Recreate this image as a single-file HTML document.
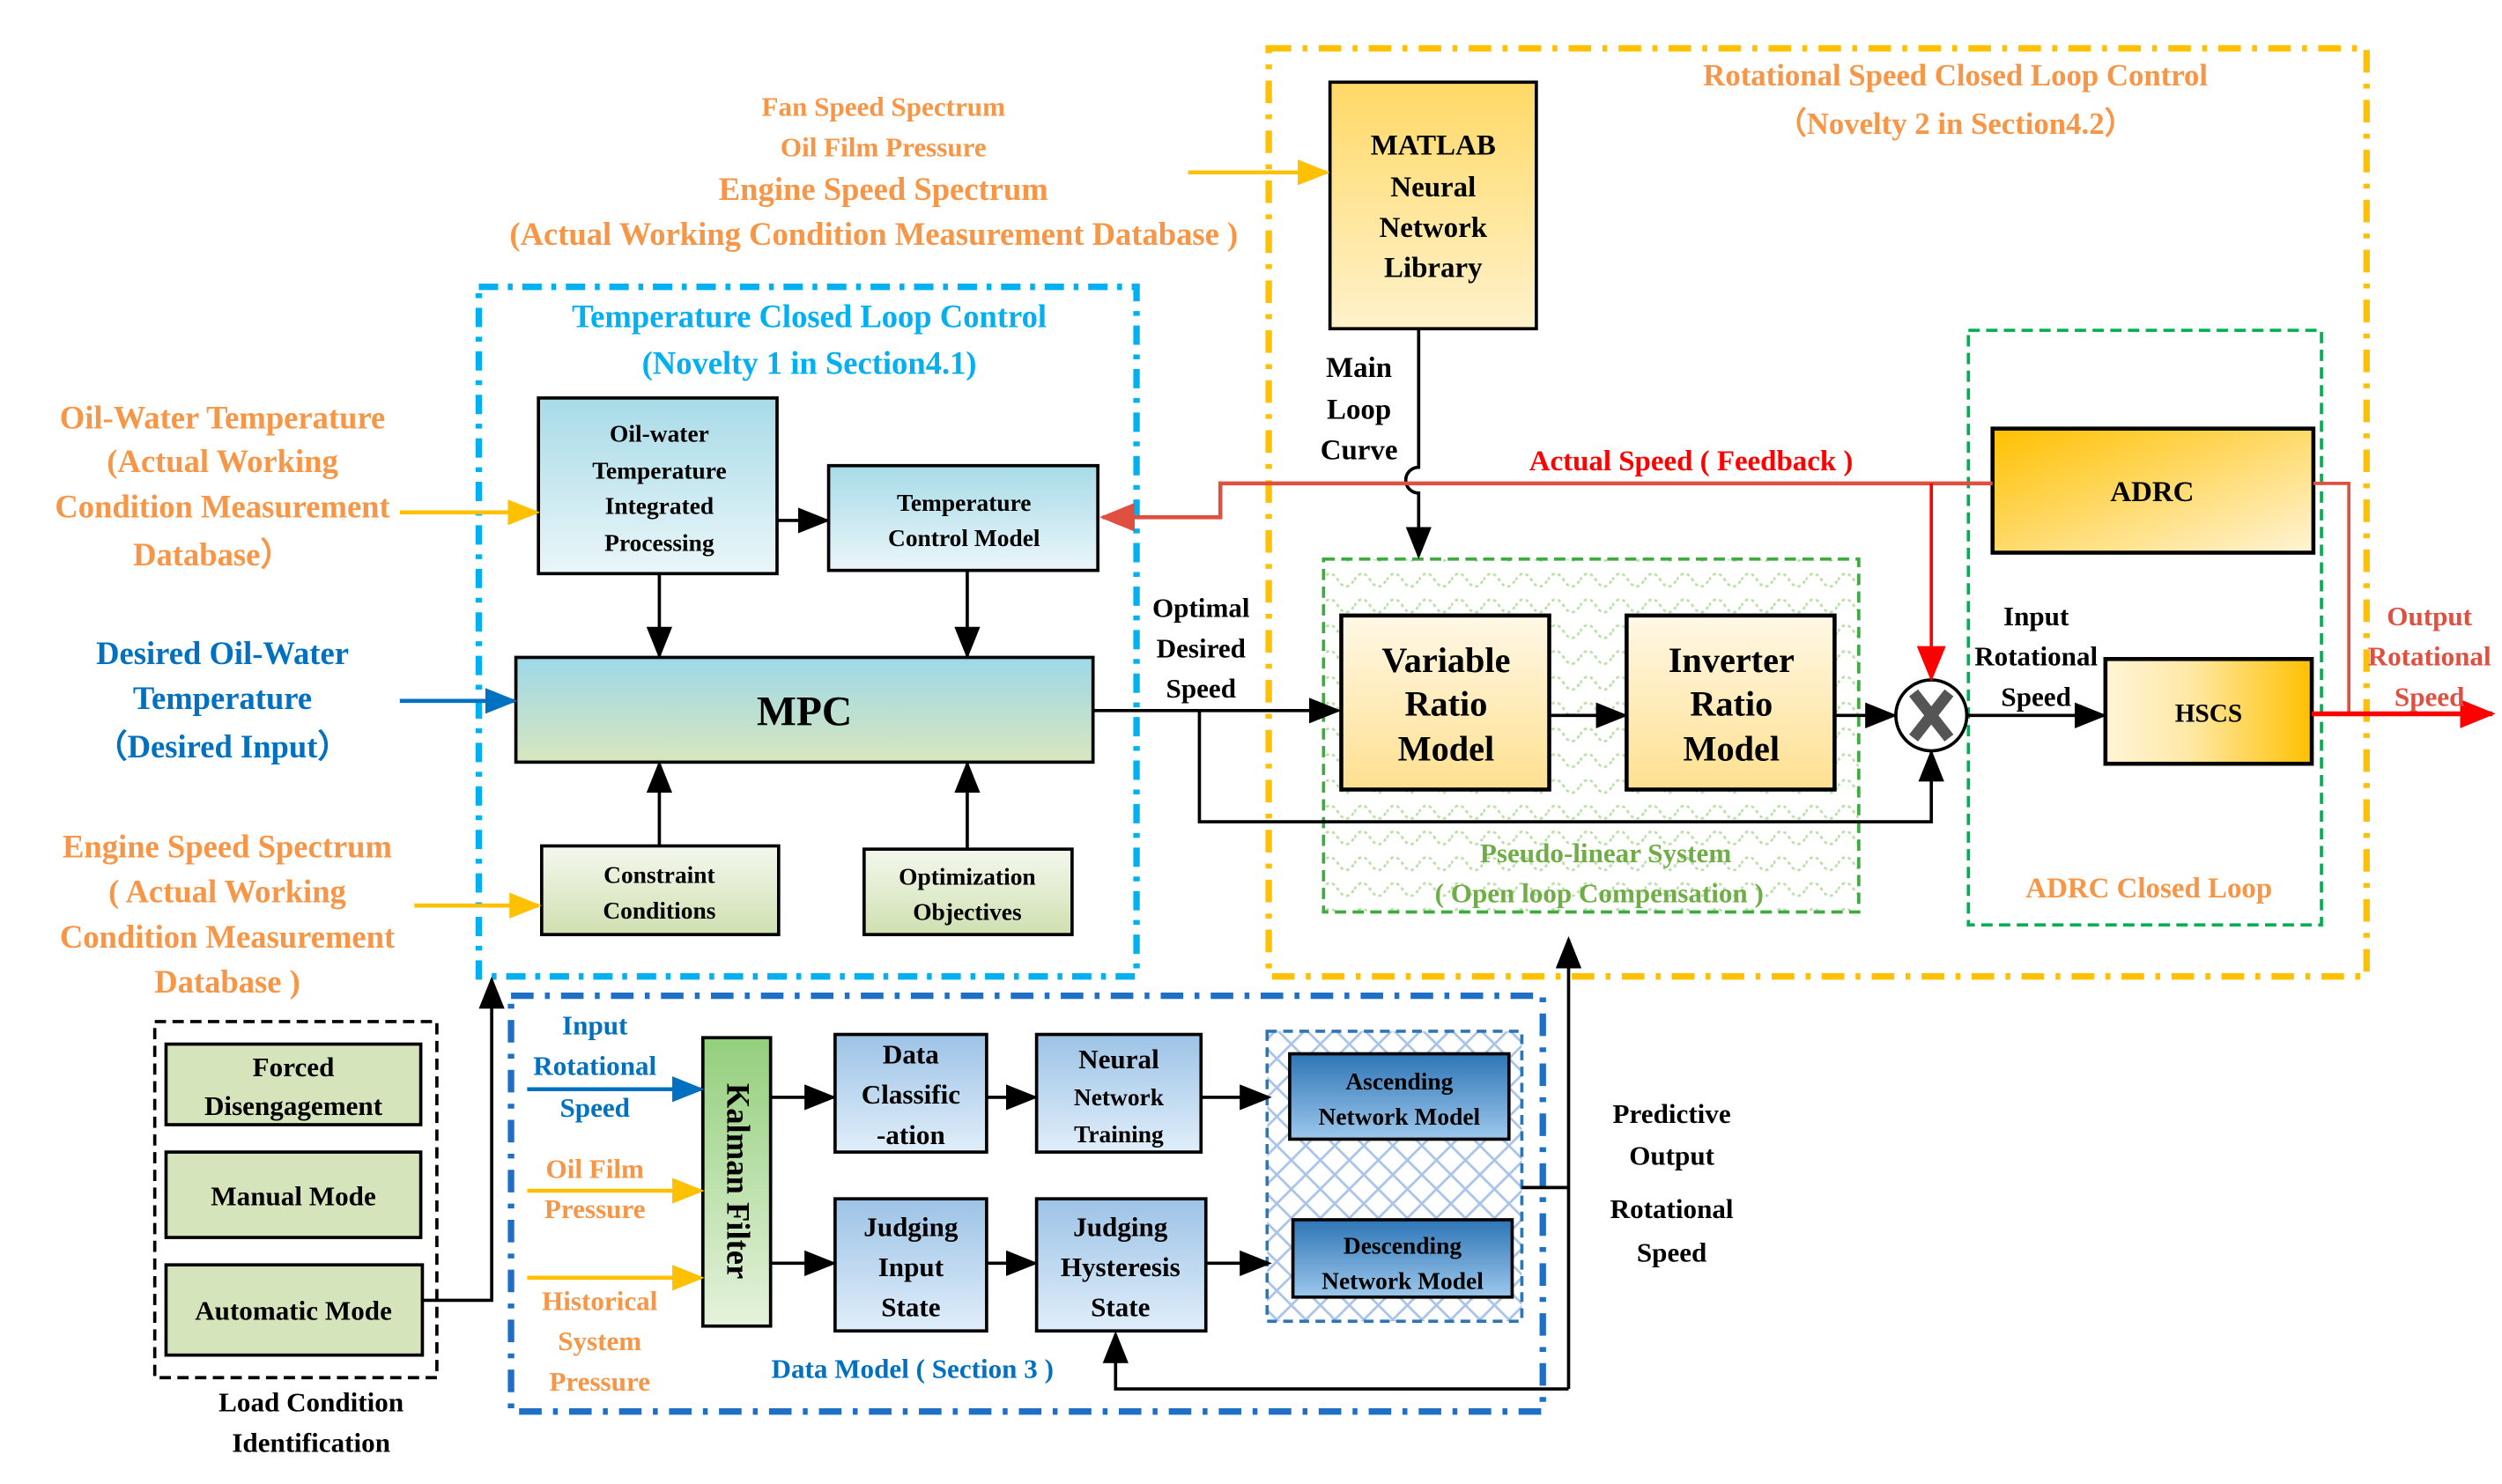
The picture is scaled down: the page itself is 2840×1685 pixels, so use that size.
<!DOCTYPE html>
<html><head><meta charset="utf-8">
<style>html,body{margin:0;padding:0;background:#fff}svg{display:block}
text{font-family:"Liberation Serif",serif;font-weight:bold;text-anchor:middle}</style></head>
<body>
<svg width="2840" height="1685" viewBox="0 0 1552 921" preserveAspectRatio="none" xmlns="http://www.w3.org/2000/svg">
<defs>
<marker id="ak" markerWidth="10" markerHeight="10" refX="9" refY="5" orient="auto" markerUnits="userSpaceOnUse"><path d="M0,0 L10,5 L0,10 z" fill="#000"/></marker>
<marker id="ab" markerWidth="20" markerHeight="16" refX="18" refY="8" orient="auto" markerUnits="userSpaceOnUse"><path d="M0,0 L20,8 L0,16 z" fill="#000"/></marker>
<marker id="ay" markerWidth="20" markerHeight="16" refX="18" refY="8" orient="auto" markerUnits="userSpaceOnUse"><path d="M0,0 L20,8 L0,16 z" fill="#ffc000"/></marker>
<marker id="abl" markerWidth="20" markerHeight="16" refX="18" refY="8" orient="auto" markerUnits="userSpaceOnUse"><path d="M0,0 L20,8 L0,16 z" fill="#0070c0"/></marker>
<marker id="ar" markerWidth="22" markerHeight="18" refX="20" refY="9" orient="auto" markerUnits="userSpaceOnUse"><path d="M0,0 L22,9 L0,18 z" fill="#ff0000"/></marker>
<marker id="ar2" markerWidth="22" markerHeight="18" refX="20" refY="9" orient="auto" markerUnits="userSpaceOnUse"><path d="M0,0 L22,9 L0,18 z" fill="#e05040"/></marker>
<linearGradient id="gy" x1="0" y1="0" x2="0" y2="1"><stop offset="0" stop-color="#fff8e6"/><stop offset="1" stop-color="#ffe090"/></linearGradient>
<linearGradient id="gm" x1="0" y1="0" x2="0" y2="1"><stop offset="0" stop-color="#ffd966"/><stop offset="1" stop-color="#fff2cc"/></linearGradient>
<linearGradient id="gc" x1="0" y1="0" x2="0" y2="1"><stop offset="0" stop-color="#a8dbe8"/><stop offset="1" stop-color="#eaf6f9"/></linearGradient>
<linearGradient id="gmpc" x1="0" y1="0" x2="0" y2="1"><stop offset="0" stop-color="#9dd8e8"/><stop offset="1" stop-color="#d8e6be"/></linearGradient>
<linearGradient id="gg" x1="0" y1="0" x2="0" y2="1"><stop offset="0" stop-color="#f4f8ee"/><stop offset="1" stop-color="#cfe0b0"/></linearGradient>
<linearGradient id="ga" x1="0" y1="0" x2="1" y2="1"><stop offset="0" stop-color="#ffc000"/><stop offset="1" stop-color="#fff4d6"/></linearGradient>
<linearGradient id="gh" x1="0" y1="0" x2="1" y2="0"><stop offset="0" stop-color="#fff4d6"/><stop offset="0.4" stop-color="#ffe9a8"/><stop offset="1" stop-color="#ffc000"/></linearGradient>
<linearGradient id="gk" x1="0" y1="0" x2="0" y2="1"><stop offset="0" stop-color="#93cf7c"/><stop offset="1" stop-color="#e6f2dc"/></linearGradient>
<linearGradient id="gb" x1="0" y1="0" x2="0" y2="1"><stop offset="0" stop-color="#9dc3e6"/><stop offset="1" stop-color="#e0eefa"/></linearGradient>
<linearGradient id="gd" x1="0" y1="0" x2="0" y2="1"><stop offset="0" stop-color="#2e75b6"/><stop offset="1" stop-color="#9dc8ec"/></linearGradient>
<pattern id="pg" width="20" height="16" patternUnits="userSpaceOnUse"><path d="M0,8 Q5,0 10,8 Q15,16 20,8" fill="none" stroke="#b9dfa8" stroke-width="1.5" stroke-dasharray="2,2"/></pattern>
<pattern id="pb" width="18" height="18" patternUnits="userSpaceOnUse"><path d="M0,9 L9,0 L18,9 L9,18 z" fill="none" stroke="#a9c4e8" stroke-width="1.5"/></pattern>
</defs>

<!-- containers -->
<rect x="787" y="30" width="681" height="576" fill="none" stroke="#ffc000" stroke-width="4" stroke-dasharray="14,7,3,7"/>
<rect x="297" y="178" width="408" height="428" fill="none" stroke="#00b0f0" stroke-width="4" stroke-dasharray="12,6,3,6"/>
<rect x="317" y="618" width="640" height="258" fill="none" stroke="#1f6fc5" stroke-width="4" stroke-dasharray="14,7,3,7"/>
<rect x="96" y="634" width="175" height="221" fill="none" stroke="#000" stroke-width="2" stroke-dasharray="7,4"/>
<rect x="821" y="347" width="332" height="219" fill="url(#pg)" stroke="#3cac3c" stroke-width="2" stroke-dasharray="7,4"/>
<rect x="1221" y="205" width="219" height="369" fill="none" stroke="#00b050" stroke-width="2" stroke-dasharray="7,4"/>
<rect x="786" y="640" width="158" height="180" fill="url(#pb)" stroke="#2e75b6" stroke-width="2" stroke-dasharray="6,4"/>

<!-- boxes -->
<rect x="825" y="51" width="128" height="153" fill="url(#gm)" stroke="#000" stroke-width="2"/>
<text font-size="18" x="889" y="96">MATLAB</text><text font-size="18" x="889" y="122">Neural</text><text font-size="18" x="889" y="147">Network</text><text font-size="18" x="889" y="172">Library</text>

<rect x="334" y="247" width="148" height="109" fill="url(#gc)" stroke="#000" stroke-width="2"/>
<g font-size="15" style="font-weight:normal"><text x="409" y="274" font-weight="normal">Oil-water</text><text x="409" y="297" font-weight="normal">Temperature</text><text x="409" y="319" font-weight="normal">Integrated</text><text x="409" y="342" font-weight="normal">Processing</text></g>
<rect x="514" y="289" width="167" height="65" fill="url(#gc)" stroke="#000" stroke-width="2"/>
<text font-size="15" font-weight="normal" x="598" y="317">Temperature</text><text font-size="15" font-weight="normal" x="598" y="339">Control Model</text>
<rect x="320" y="408" width="358" height="65" fill="url(#gmpc)" stroke="#000" stroke-width="2"/>
<text font-size="26" x="499" y="450">MPC</text>
<rect x="336" y="525" width="147" height="55" fill="url(#gg)" stroke="#000" stroke-width="2"/>
<text font-size="15" font-weight="normal" x="409" y="548">Constraint</text><text font-size="15" font-weight="normal" x="409" y="570">Conditions</text>
<rect x="536" y="527" width="129" height="53" fill="url(#gg)" stroke="#000" stroke-width="2"/>
<text font-size="15" font-weight="normal" x="600" y="549">Optimization</text><text font-size="15" font-weight="normal" x="600" y="571">Objectives</text>

<rect x="832" y="382" width="129" height="108" fill="url(#gy)" stroke="#000" stroke-width="2.5"/>
<text font-size="22" x="897" y="417">Variable</text><text font-size="22" x="897" y="444">Ratio</text><text font-size="22" x="897" y="472">Model</text>
<rect x="1009" y="382" width="129" height="108" fill="url(#gy)" stroke="#000" stroke-width="2.5"/>
<text font-size="22" x="1074" y="417">Inverter</text><text font-size="22" x="1074" y="444">Ratio</text><text font-size="22" x="1074" y="472">Model</text>
<rect x="1236" y="266" width="199" height="77" fill="url(#ga)" stroke="#000" stroke-width="2.5"/>
<text font-size="18" x="1335" y="311">ADRC</text>
<rect x="1306" y="409" width="128" height="65" fill="url(#gh)" stroke="#000" stroke-width="2.5"/>
<text font-size="16" font-weight="normal" x="1370" y="448">HSCS</text>

<rect x="103" y="648" width="158" height="50" fill="#d6e4bc" stroke="#000" stroke-width="2"/>
<text font-size="17" x="182" y="668">Forced</text><text font-size="17" x="182" y="692">Disengagement</text>
<rect x="103" y="715" width="158" height="53" fill="#d6e4bc" stroke="#000" stroke-width="2"/>
<text font-size="17" x="182" y="748">Manual Mode</text>
<rect x="103" y="785" width="159" height="56" fill="#d6e4bc" stroke="#000" stroke-width="2"/>
<text font-size="17" x="182" y="819">Automatic Mode</text>

<rect x="436" y="644" width="42" height="179" fill="url(#gk)" stroke="#000" stroke-width="2"/>
<text font-size="20" transform="translate(451,733) rotate(90)">Kalman Filter</text>
<rect x="518" y="642" width="94" height="73" fill="url(#gb)" stroke="#000" stroke-width="2"/>
<text font-size="17" x="565" y="660">Data</text><text font-size="17" x="565" y="685">Classific</text><text font-size="17" x="565" y="710">-ation</text>
<rect x="643" y="642" width="102" height="73" fill="url(#gb)" stroke="#000" stroke-width="2"/>
<text font-size="17" x="694" y="663">Neural</text><text font-size="15" font-weight="normal" x="694" y="686">Network</text><text font-size="15" font-weight="normal" x="694" y="709">Training</text>
<rect x="518" y="744" width="94" height="82" fill="url(#gb)" stroke="#000" stroke-width="2"/>
<text font-size="17" x="565" y="767">Judging</text><text font-size="17" x="565" y="792">Input</text><text font-size="17" x="565" y="817">State</text>
<rect x="643" y="744" width="105" height="82" fill="url(#gb)" stroke="#000" stroke-width="2"/>
<text font-size="17" x="695" y="767">Judging</text><text font-size="17" x="695" y="792">Hysteresis</text><text font-size="17" x="695" y="817">State</text>
<rect x="800" y="654" width="136" height="53" fill="url(#gd)" stroke="#000" stroke-width="2"/>
<text font-size="15" font-weight="normal" x="868" y="676">Ascending</text><text font-size="15" font-weight="normal" x="868" y="698">Network Model</text>
<rect x="802" y="757" width="136" height="48" fill="url(#gd)" stroke="#000" stroke-width="2"/>
<text font-size="15" font-weight="normal" x="870" y="778">Descending</text><text font-size="15" font-weight="normal" x="870" y="800">Network Model</text>

<!-- connectors black -->
<g stroke="#000" stroke-width="2" fill="none">
<path d="M880,205 V290 A8,8 0 0 0 880,306 V345" marker-end="url(#ab)"/>
<line x1="482" y1="323" x2="513" y2="323" marker-end="url(#ab)"/>
<line x1="409" y1="356" x2="409" y2="407" marker-end="url(#ab)"/>
<line x1="600" y1="354" x2="600" y2="407" marker-end="url(#ab)"/>
<line x1="409" y1="525" x2="409" y2="474" marker-end="url(#ab)"/>
<line x1="600" y1="527" x2="600" y2="474" marker-end="url(#ab)"/>
<line x1="678" y1="441" x2="830" y2="441" marker-end="url(#ab)"/>
<path d="M744,441 V510 H1198 V467" marker-end="url(#ab)"/>
<line x1="961" y1="444" x2="1008" y2="444" marker-end="url(#ab)"/>
<line x1="1138" y1="444" x2="1175" y2="444" marker-end="url(#ab)"/>
<line x1="1220" y1="444" x2="1305" y2="444" marker-end="url(#ab)"/>
<path d="M262,807 H305 V608" marker-end="url(#ab)"/>
<line x1="478" y1="681" x2="517" y2="681" marker-end="url(#ab)"/>
<line x1="478" y1="784" x2="517" y2="784" marker-end="url(#ab)"/>
<line x1="612" y1="681" x2="642" y2="681" marker-end="url(#ab)"/>
<line x1="612" y1="784" x2="642" y2="784" marker-end="url(#ab)"/>
<line x1="745" y1="681" x2="787" y2="681" marker-end="url(#ab)"/>
<line x1="748" y1="784" x2="787" y2="784" marker-end="url(#ab)"/>
<path d="M944,737 H973"/>
<path d="M973,862 V583" marker-end="url(#ab)"/>
<path d="M973,862 H692 V828" marker-end="url(#ab)"/>
</g>
<!-- multiplier -->
<ellipse cx="1198" cy="444" rx="22" ry="22" fill="#fff" stroke="#000" stroke-width="2"/>
<path d="M1187,430 L1209,458 M1209,430 L1187,458" stroke="#555" stroke-width="7"/>

<!-- red -->
<g fill="none">
<path d="M1236,300 H757 V321 H684" stroke="#e05040" stroke-width="2.5" marker-end="url(#ar2)"/>
<line x1="1198" y1="300" x2="1198" y2="421" stroke="#ff0000" stroke-width="2" marker-end="url(#ar)"/>
<path d="M1435,300 H1457 V443" stroke="#e05040" stroke-width="2"/>
<line x1="1434" y1="443" x2="1546" y2="443" stroke="#ff0000" stroke-width="3" marker-end="url(#ar)"/>
</g>

<!-- input arrows -->
<g stroke-width="2.5" fill="none">
<line x1="737" y1="107" x2="823" y2="107" stroke="#ffc000" marker-end="url(#ay)"/>
<line x1="248" y1="318" x2="333" y2="318" stroke="#ffc000" marker-end="url(#ay)"/>
<line x1="248" y1="435" x2="319" y2="435" stroke="#0070c0" marker-end="url(#abl)"/>
<line x1="257" y1="562" x2="334" y2="562" stroke="#ffc000" marker-end="url(#ay)"/>
<line x1="327" y1="676" x2="435" y2="676" stroke="#0070c0" marker-end="url(#abl)"/>
<line x1="327" y1="739" x2="435" y2="739" stroke="#ffc000" marker-end="url(#ay)"/>
<line x1="327" y1="793" x2="435" y2="793" stroke="#ffc000" marker-end="url(#ay)"/>
</g>

<!-- labels -->
<g fill="#f79646">
<text font-size="17" x="548" y="72">Fan Speed Spectrum</text>
<text font-size="17" x="548" y="97">Oil Film Pressure</text>
<text font-size="20" x="548" y="124">Engine Speed Spectrum</text>
<text font-size="20" x="542" y="152">(Actual Working Condition Measurement Database )</text>
<text font-size="19" x="1213" y="53">Rotational Speed Closed Loop Control</text>
<text font-size="19" x="1213" y="83">（Novelty 2 in Section4.2）</text>
<text font-size="20" x="138" y="266">Oil-Water Temperature</text>
<text font-size="20" x="138" y="293">(Actual Working</text>
<text font-size="20" x="138" y="321">Condition Measurement</text>
<text font-size="20" x="132" y="351">Database）</text>
<text font-size="20" x="141" y="532">Engine Speed Spectrum</text>
<text font-size="20" x="141" y="560">( Actual Working</text>
<text font-size="20" x="141" y="588">Condition Measurement</text>
<text font-size="20" x="141" y="616">Database )</text>
<text font-size="17" x="369" y="731">Oil Film</text>
<text font-size="17" x="369" y="756">Pressure</text>
<text font-size="17" x="372" y="813">Historical</text>
<text font-size="17" x="372" y="838">System</text>
<text font-size="17" x="372" y="863">Pressure</text>
<text font-size="18" x="1333" y="557">ADRC Closed Loop</text>
</g>
<g fill="#00b0f0">
<text font-size="20" x="502" y="203">Temperature Closed Loop Control</text>
<text font-size="20" x="502" y="232">(Novelty 1 in Section4.1)</text>
</g>
<g fill="#0070c0">
<text font-size="20" x="138" y="412">Desired Oil-Water</text>
<text font-size="20" x="138" y="440">Temperature</text>
<text font-size="20" x="138" y="470">（Desired Input）</text>
<text font-size="17" x="369" y="642">Input</text>
<text font-size="17" x="369" y="667">Rotational</text>
<text font-size="17" x="369" y="693">Speed</text>
<text font-size="17" x="566" y="855">Data Model ( Section 3 )</text>
</g>
<g fill="#70ad47">
<text font-size="17" x="996" y="535">Pseudo-linear System</text>
<text font-size="17" x="992" y="560">( Open loop Compensation )</text>
</g>
<text font-size="18" x="1049" y="292" fill="#ff0000">Actual Speed ( Feedback )</text>
<g fill="#e05040">
<text font-size="17" x="1507" y="388">Output</text>
<text font-size="17" x="1507" y="413">Rotational</text>
<text font-size="17" x="1507" y="438">Speed</text>
</g>
<g fill="#000">
<text font-size="18" x="843" y="234">Main</text><text font-size="18" x="843" y="260">Loop</text><text font-size="18" x="843" y="285">Curve</text>
<text font-size="17" x="745" y="383">Optimal</text><text font-size="17" x="745" y="408">Desired</text><text font-size="17" x="745" y="433">Speed</text>
<text font-size="17" x="1263" y="388">Input</text><text font-size="17" x="1263" y="413">Rotational</text><text font-size="17" x="1263" y="438">Speed</text>
<text font-size="17" x="1037" y="697">Predictive</text><text font-size="17" x="1037" y="723">Output</text>
<text font-size="17" x="1037" y="756">Rotational</text><text font-size="17" x="1037" y="783">Speed</text>
<text font-size="17" x="193" y="876">Load Condition</text><text font-size="17" x="193" y="901">Identification</text>
</g>
</svg>
</body></html>
